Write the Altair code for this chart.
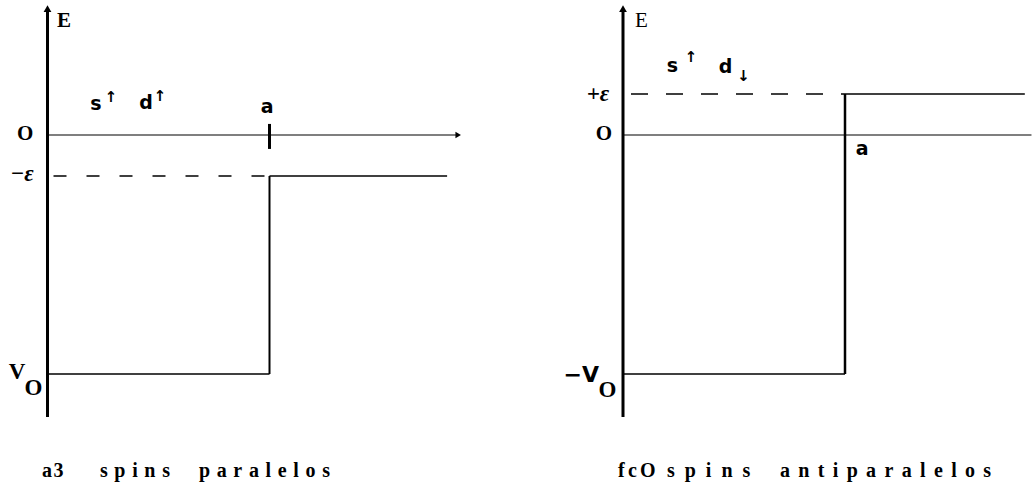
import altair as alt
import pandas as pd

# ---------------- values (diagram units) ----------------
# energies in units of epsilon, distances in units of the step position a
A = 1.0          # step position a
EPS = 1.0        # epsilon
V0 = 5.83        # well depth

# left panel (parallel spins): axis extent, line ends
L_AXIS = [-6.88, 3.0]
L_ZERO_END = 1.84
L_STEP_END = 1.80
L_TICK = [-0.34, 0.27]
# right panel (antiparallel spins)
R_AXIS = [-6.88, 3.0]
R_ZERO_END = 1.84
R_STEP_END = 1.81

# text
L_CAPTION = ["a3", "spins", "paralelos"]
R_CAPTION = ["fcO", "spins", "antiparalelos"]

# ---------------- layout (pixels) ----------------
H = 490
SX, SY = 222.0, 41.0
OY = 135.0
LW, RW = 516, 517
L_OX, R_OX = 47.5, 107.0

INK = "#000000"
SERIF = "Liberation Serif"
SANS = "DejaVu Sans"


def scales(ox, w):
    xs = alt.Scale(domain=[-ox / SX, (w - ox) / SX], nice=False, zero=False)
    ys = alt.Scale(domain=[-(H - OY) / SY, OY / SY], nice=False, zero=False)
    return xs, ys


def hseg(rows, xs, ys, **mk):
    df = pd.DataFrame(rows, columns=["x", "x2", "y"])
    return alt.Chart(df).mark_rule(color=INK, **mk).encode(
        x=alt.X("x:Q", scale=xs, axis=None), x2="x2:Q",
        y=alt.Y("y:Q", scale=ys, axis=None))


def vseg(rows, xs, ys, **mk):
    df = pd.DataFrame(rows, columns=["x", "y", "y2"])
    return alt.Chart(df).mark_rule(color=INK, **mk).encode(
        x=alt.X("x:Q", scale=xs, axis=None),
        y=alt.Y("y:Q", scale=ys, axis=None), y2="y2:Q")


def txt(rows, xs, ys, **mk):
    df = pd.DataFrame(rows, columns=["x", "y", "t"])
    return alt.Chart(df).mark_text(color=INK, **mk).encode(
        x=alt.X("x:Q", scale=xs, axis=None),
        y=alt.Y("y:Q", scale=ys, axis=None), text="t:N")


def pts(rows, xs, ys, **mk):
    df = pd.DataFrame(rows, columns=["x", "y"])
    return alt.Chart(df).mark_point(color=INK, filled=True, opacity=1, **mk).encode(
        x=alt.X("x:Q", scale=xs, axis=None),
        y=alt.Y("y:Q", scale=ys, axis=None))


def spaced(word, sep):
    return sep.join(list(word))


CAP_Y = (OY - 477) / SY
NB = "\u00a0"
HAIR = "\u200a"
SEP_L = NB + HAIR
SEP_R = NB + HAIR + HAIR
SEP_W = NB + NB

# ---------------- left panel ----------------
xs, ys = scales(L_OX, LW)
left = alt.layer(
    vseg([[0, L_AXIS[0], L_AXIS[1]]], xs, ys, strokeWidth=3),
    pts([[0, L_AXIS[1] + 0.08]], xs, ys, shape="triangle-up", size=60),
    hseg([[0, L_ZERO_END, 0]], xs, ys, strokeWidth=1.2),
    pts([[L_ZERO_END + 0.01, 0]], xs, ys, shape="triangle-right", size=40),
    hseg([[0, A, -EPS]], xs, ys, strokeWidth=1.5, strokeDash=[13, 20], strokeDashOffset=-6),
    hseg([[A, L_STEP_END, -EPS], [0, A, -V0]], xs, ys, strokeWidth=1.5),
    vseg([[A, -EPS, -V0]], xs, ys, strokeWidth=2),
    vseg([[A, L_TICK[0], L_TICK[1]]], xs, ys, strokeWidth=3),
    txt([[0.043, 2.78, "E"]], xs, ys, font=SERIF, fontSize=21, fontWeight="bold", align="left", baseline="middle"),
    txt([[-0.101, 0.02, "O"]], xs, ys, font=SERIF, fontSize=21, fontWeight="bold", align="center", baseline="middle"),
    txt([[-0.137, -V0 + 0.05, "V"]], xs, ys, font=SERIF, fontSize=23, fontWeight="bold", align="center", baseline="middle"),
    txt([[-0.063, -V0 - 0.33, "O"]], xs, ys, font=SERIF, fontSize=23, fontWeight="bold", align="center", baseline="middle"),
    txt([[-0.115, -EPS + 0.05, "−ε"]], xs, ys, font=SERIF, fontSize=23, fontWeight="bold", fontStyle="italic", align="center", baseline="middle"),
    txt([[0.218, 0.75, "s"], [0.444, 0.78, "d"], [A - 0.011, 0.68, "a"]], xs, ys, font=SANS, fontSize=19, fontWeight="bold", align="center", baseline="middle"),
    txt([[0.286, 0.93, "↑"], [0.507, 0.94, "↑"]], xs, ys, font=SANS, fontSize=15, fontWeight="bold", align="center", baseline="middle"),
    txt([[-0.025, CAP_Y, spaced(L_CAPTION[0], HAIR)],
         [0.236, CAP_Y, spaced(L_CAPTION[1], SEP_L)],
         [0.682, CAP_Y, spaced(L_CAPTION[2], SEP_L)]], xs, ys,
        font=SERIF, fontSize=20, fontWeight="bold", align="left", baseline="alphabetic"),
).properties(width=LW, height=H)

# ---------------- right panel ----------------
xs, ys = scales(R_OX, RW)
right = alt.layer(
    vseg([[0, R_AXIS[0], R_AXIS[1]]], xs, ys, strokeWidth=3),
    pts([[0, R_AXIS[1] + 0.08]], xs, ys, shape="triangle-up", size=60),
    hseg([[0, R_ZERO_END, 0]], xs, ys, strokeWidth=1.2),
    hseg([[0, A, EPS]], xs, ys, strokeWidth=1.5, strokeDash=[17, 18], strokeDashOffset=-8),
    hseg([[A, R_STEP_END, EPS], [0, A, -V0]], xs, ys, strokeWidth=1.5),
    vseg([[A, EPS, -V0]], xs, ys, strokeWidth=2.5),
    txt([[0.054, 2.77, "E"]], xs, ys, font=SERIF, fontSize=21, align="left", baseline="middle"),
    txt([[-0.086, 0.02, "O"]], xs, ys, font=SERIF, fontSize=21, fontWeight="bold", align="center", baseline="middle"),
    txt([[-0.113, EPS, "+ε"]], xs, ys, font=SERIF, fontSize=23, fontWeight="bold", fontStyle="italic", align="center", baseline="middle"),
    txt([[-0.108, -V0 - 0.02, "−V"]], xs, ys, font=SANS, fontSize=22, fontWeight="bold", align="right", baseline="middle"),
    txt([[-0.070, -V0 - 0.40, "O"]], xs, ys, font=SERIF, fontSize=23, fontWeight="bold", align="center", baseline="middle"),
    txt([[0.223, 1.68, "s"], [0.462, 1.67, "d"], [A + 0.077, -0.34, "a"]], xs, ys, font=SANS, fontSize=19, fontWeight="bold", align="center", baseline="middle"),
    txt([[0.306, 1.90, "↑"], [0.543, 1.44, "↓"]], xs, ys, font=SANS, fontSize=15, fontWeight="bold", align="center", baseline="middle"),
    txt([[-0.023, CAP_Y, spaced(R_CAPTION[0], HAIR + HAIR)],
         [0.198, CAP_Y, spaced(R_CAPTION[1], SEP_W)],
         [0.707, CAP_Y, spaced(R_CAPTION[2], SEP_R)]], xs, ys,
        font=SERIF, fontSize=20, fontWeight="bold", align="left", baseline="alphabetic"),
).properties(width=RW, height=H)

chart = alt.hconcat(left, right, spacing=0, bounds="flush").properties(
    padding=0
).configure_view(stroke=None)

chart.save("out.html", embed_options={"renderer": "svg", "actions": False})
